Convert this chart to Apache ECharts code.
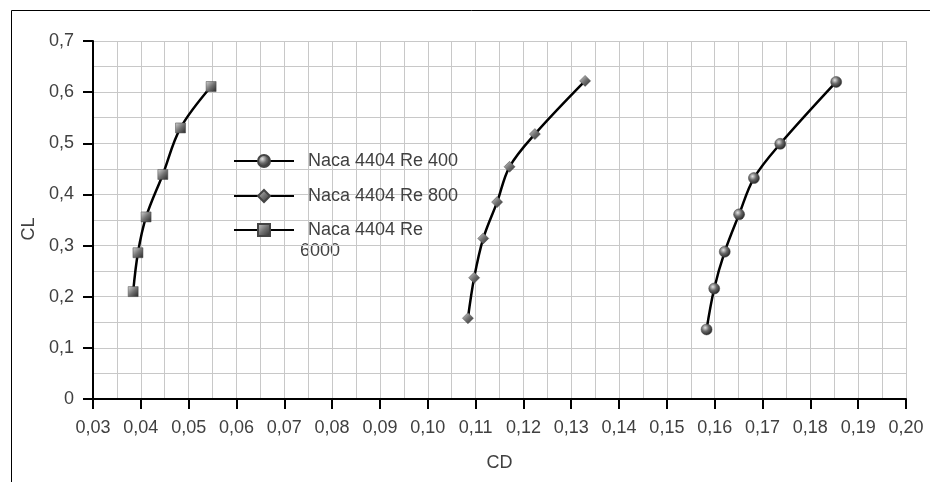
<!DOCTYPE html>
<html>
<head>
<meta charset="utf-8">
<script src="https://cdn.jsdelivr.net/npm/echarts@6/dist/echarts.min.js"></script>
<style>
  html, body { margin: 0; padding: 0; background: #fff; }
  #chart { width: 930px; height: 482px; }
</style>
</head>
<body>
<div id="chart"></div>
<script>
// Lift polar CL vs CD for NACA 4404 at three Reynolds numbers
const seriesNames = ['Naca 4404 Re 400', 'Naca 4404 Re 800', 'Naca 4404 Re 6000'];

const cdRe400 = [0.1583, 0.1599, 0.1621, 0.1651, 0.1682, 0.1737, 0.1854];
const clRe400 = [0.136, 0.216, 0.288, 0.361, 0.432, 0.499, 0.620];

const cdRe800 = [0.1084, 0.1097, 0.1116, 0.1145, 0.1171, 0.1224, 0.1329];
const clRe800 = [0.158, 0.237, 0.314, 0.385, 0.454, 0.518, 0.622];

const cdRe6000 = [0.0384, 0.0394, 0.0411, 0.0446, 0.0483, 0.0547];
const clRe6000 = [0.210, 0.286, 0.356, 0.439, 0.530, 0.611];

const xTicks = { min: 0.03, max: 0.20, step: 0.01 };
const yTicks = { min: 0, max: 0.7, step: 0.1 };

const pairs = (xs, ys) => xs.map((x, i) => [x, ys[i]]);
const comma = (v, d) => (v === 0 ? '0' : v.toFixed(d).replace('.', ','));

const labelColor = '#404040';
const gridColor = '#c8c8c8';
const fontFamily = '"Liberation Sans", Arial, sans-serif';

// shaded grey marker fills
const sphereFill = {
  type: 'radial', x: 0.38, y: 0.35, r: 0.7,
  colorStops: [
    { offset: 0, color: '#e4e4e4' },
    { offset: 0.45, color: '#6a6a6a' },
    { offset: 1, color: '#1c1c1c' }
  ]
};
const blockFill = {
  type: 'linear', x: 0, y: 0, x2: 1, y2: 1,
  colorStops: [
    { offset: 0, color: '#d6d6d6' },
    { offset: 0.5, color: '#727272' },
    { offset: 1, color: '#262626' }
  ]
};

function lineSeries(name, data, symbol, size, fill) {
  return {
    name: name,
    type: 'line',
    data: data,
    smooth: 0.35,
    symbol: symbol,
    symbolSize: size,
    showAllSymbol: true,
    lineStyle: { color: '#000', width: 2.5 },
    itemStyle: { color: fill, borderColor: '#444', borderWidth: 0.5 },
    z: 3
  };
}

function legendAt(name, top, formatter) {
  const l = {
    data: [name],
    left: 233,
    top: top,
    orient: 'vertical',
    padding: 0,
    itemWidth: 60,
    itemHeight: 15,
    selectedMode: false,
    textStyle: {
      color: labelColor,
      fontSize: 18,
      fontFamily: fontFamily,
      padding: [0, 0, 0, 9]
    }
  };
  if (formatter) l.formatter = formatter;
  return l;
}

const chart = echarts.init(document.getElementById('chart'), null, { renderer: 'canvas' });

chart.setOption({
  animation: false,
  backgroundColor: '#fff',
  graphic: [
    {
      type: 'rect',
      shape: { x: 11.5, y: 10.5, width: 1000, height: 600 },
      style: { fill: 'none', stroke: '#000', lineWidth: 1 },
      silent: true,
      z: 0
    },
    {
      type: 'text',
      left: 300,
      top: 242,
      style: { text: '6000', fill: labelColor, fontSize: 18, fontFamily: fontFamily },
      silent: true
    }
  ],
  legend: [
    legendAt(seriesNames[0], 152),
    legendAt(seriesNames[1], 187),
    legendAt(seriesNames[2], 221, () => 'Naca 4404 Re')
  ],
  grid: { left: 93, right: 24, top: 41, bottom: 83, containLabel: false },
  xAxis: {
    type: 'value',
    min: xTicks.min,
    max: xTicks.max,
    interval: xTicks.step,
    name: 'CD',
    nameLocation: 'middle',
    nameGap: 55,
    nameTextStyle: { color: labelColor, fontSize: 18, fontFamily: fontFamily },
    axisLine: { show: true, onZero: false, lineStyle: { color: '#000', width: 2 } },
    axisTick: { show: true, length: 10, lineStyle: { color: '#000', width: 2 } },
    axisLabel: {
      color: labelColor, fontSize: 18, fontFamily: fontFamily, margin: 20,
      formatter: v => comma(v, 2)
    },
    splitLine: { show: true, lineStyle: { color: gridColor, width: 1 } },
    minorTick: { show: false, splitNumber: 2 },
    minorSplitLine: { show: true, lineStyle: { color: gridColor, width: 1 } }
  },
  yAxis: {
    type: 'value',
    min: yTicks.min,
    max: yTicks.max,
    interval: yTicks.step,
    name: 'CL',
    nameLocation: 'middle',
    nameGap: 49,
    nameTextStyle: {
      color: labelColor, fontSize: 18, fontFamily: fontFamily,
      padding: [0, 18, 0, 0]
    },
    axisLine: { show: true, onZero: false, lineStyle: { color: '#000', width: 2 } },
    axisTick: { show: true, length: 10, lineStyle: { color: '#000', width: 2 } },
    axisLabel: {
      color: labelColor, fontSize: 18, fontFamily: fontFamily, margin: 19,
      formatter: v => comma(v, 1)
    },
    splitLine: { show: true, lineStyle: { color: gridColor, width: 1 } },
    minorTick: { show: false, splitNumber: 2 },
    minorSplitLine: { show: true, lineStyle: { color: gridColor, width: 1 } }
  },
  series: [
    lineSeries(seriesNames[0], pairs(cdRe400, clRe400), 'circle', 11, sphereFill),
    lineSeries(seriesNames[1], pairs(cdRe800, clRe800), 'diamond', 11, blockFill),
    lineSeries(seriesNames[2], pairs(cdRe6000, clRe6000), 'rect', 10, blockFill)
  ]
});
</script>
</body>
</html>
